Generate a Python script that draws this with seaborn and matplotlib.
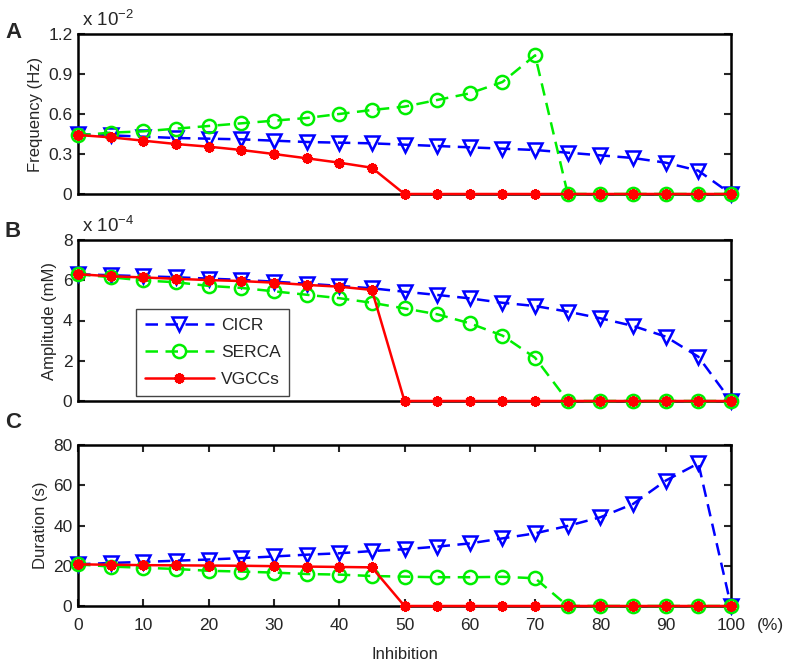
import numpy as np
import pandas as pd
import matplotlib
matplotlib.use("Agg")
import matplotlib.pyplot as plt
import seaborn as sns

inhibition = [0, 5, 10, 15, 20, 25, 30, 35, 40, 45, 50, 55, 60, 65, 70, 75, 80, 85, 90, 95, 100]

# Panel A: frequency (x 1e-2 Hz)
freq_cicr = [0.45, 0.44, 0.43, 0.42, 0.415, 0.41, 0.40, 0.39, 0.385, 0.38, 0.37, 0.36, 0.35, 0.34, 0.33, 0.31, 0.29, 0.27, 0.235, 0.175, 0.0]
freq_serca = [0.44, 0.46, 0.47, 0.49, 0.51, 0.53, 0.55, 0.57, 0.60, 0.63, 0.655, 0.705, 0.755, 0.84, 1.04, 0, 0, 0, 0, 0, 0]
freq_vgcc = [0.4425, 0.425, 0.40, 0.375, 0.355, 0.33, 0.30, 0.268, 0.235, 0.197, 0, 0, 0, 0, 0, 0, 0, 0, 0, 0, 0]

# Panel B: amplitude (x 1e-4 mM)
amp_cicr = [6.3, 6.25, 6.2, 6.15, 6.08, 6.02, 5.93, 5.83, 5.72, 5.6, 5.43, 5.27, 5.10, 4.88, 4.72, 4.44, 4.11, 3.73, 3.2, 2.2, 0.0]
amp_serca = [6.3, 6.15, 5.99, 5.9, 5.72, 5.62, 5.45, 5.28, 5.11, 4.88, 4.6, 4.31, 3.86, 3.25, 2.15, 0, 0, 0, 0, 0, 0]
amp_vgcc = [6.3, 6.2, 6.14, 6.07, 6.01, 5.96, 5.88, 5.77, 5.68, 5.52, 0, 0, 0, 0, 0, 0, 0, 0, 0, 0, 0]

# Panel C: duration (s)
dur_cicr = [20.7, 21.4, 21.9, 22.5, 23.1, 23.8, 24.6, 25.5, 26.2, 27.3, 28.2, 29.5, 31.1, 33.6, 36.1, 39.8, 44.1, 50.7, 62.3, 70.9, 0.0]
dur_serca = [20.7, 19.6, 19.0, 18.4, 17.5, 17.1, 16.6, 15.9, 15.6, 14.9, 14.6, 14.3, 14.3, 14.5, 13.8, 0, 0, 0, 0, 0, 0]
dur_vgcc = [20.7, 20.5, 20.3, 20.2, 20.1, 20.0, 19.8, 19.6, 19.4, 19.2, 0, 0, 0, 0, 0, 0, 0, 0, 0, 0, 0]

series_names = ["CICR", "SERCA", "VGCCs"]
panel_ylabels = ["Frequency (Hz)", "Amplitude (mM)", "Duration (s)"]
panel_letters = ["A", "B", "C"]
panel_yticks = [[0, 0.3, 0.6, 0.9, 1.2], [0, 2, 4, 6, 8], [0, 20, 40, 60, 80]]
panel_yticklabels = [["0", "0.3", "0.6", "0.9", "1.2"], ["0", "2", "4", "6", "8"], ["0", "20", "40", "60", "80"]]
panel_exponents = [r"x 10$^{-2}$", r"x 10$^{-4}$", None]
xticks = [0, 10, 20, 30, 40, 50, 60, 70, 80, 90, 100]

sns.set_style("ticks")
plt.rcParams["font.family"] = ["Liberation Sans", "DejaVu Sans"]
plt.rcParams["mathtext.fontset"] = "custom"
plt.rcParams["mathtext.rm"] = "Liberation Sans"
plt.rcParams["mathtext.it"] = "Liberation Sans"
plt.rcParams["mathtext.default"] = "rm"

fig = plt.figure(figsize=(7.86, 6.63), dpi=100)
W, H = 786.0, 663.0
left_px, right_px = 78, 731
boxes = [(34, 194), (240, 401), (445, 606)]
letter_baselines = [38, 237, 428]
axes = []
for (top, bot) in boxes:
    ax = fig.add_axes([left_px / W, 1 - bot / H, (right_px - left_px) / W, (bot - top) / H])
    axes.append(ax)

data = [
    (freq_cicr, freq_serca, freq_vgcc),
    (amp_cicr, amp_serca, amp_vgcc),
    (dur_cicr, dur_serca, dur_vgcc),
]

styles = [
    dict(color="#0000ff", linestyle=(0, (5, 3)), marker="v", markersize=10, fillstyle="none",
         markeredgecolor="#0000ff", markeredgewidth=1.8, linewidth=1.8),
    dict(color="#00ee00", linestyle=(0, (5, 3)), marker="o", markersize=9.5, fillstyle="none",
         markeredgecolor="#00ee00", markeredgewidth=1.8, linewidth=1.8),
    dict(color="#ff0000", linestyle="-", marker=(8, 2, 0), markersize=7.5,
         markeredgecolor="#ff0000", markeredgewidth=2.2, linewidth=1.8),
]

for i, ax in enumerate(axes):
    for name, vals, st in zip(series_names, data[i], styles):
        df = pd.DataFrame({"x": inhibition, "y": vals})
        sns.lineplot(data=df, x="x", y="y", ax=ax, label=name, clip_on=False, zorder=3, **st)
    ax.set_xlim(0, 100)
    ax.set_ylim(panel_yticks[i][0], panel_yticks[i][-1])
    ax.set_yticks(panel_yticks[i])
    ax.set_yticklabels(panel_yticklabels[i])
    if i < 2:
        ax.set_xticks([])
    else:
        ax.set_xticks(xticks)
        ax.set_xticklabels([str(t) for t in xticks])
    ax.set_xlabel("")
    ax.set_ylabel(panel_ylabels[i], fontsize=12, labelpad=4)
    ax.tick_params(axis="y", direction="in", length=5, width=1.5, labelsize=12.5,
                   right=True, left=True, pad=4)
    ax.tick_params(axis="x", direction="in", length=5, width=1.5, labelsize=12.5,
                   top=(i == 2), bottom=(i == 2), pad=9)
    for sp in ax.spines.values():
        sp.set_linewidth(1.8)
        sp.set_color("black")
    if ax.get_legend() is not None:
        ax.get_legend().remove()
    fig.text(5 / W, 1 - letter_baselines[i] / H, panel_letters[i],
             fontsize=16, fontweight="bold", ha="left", va="baseline")
    if panel_exponents[i]:
        ax.text(4 / 653, 1.0 + 8 / 160, panel_exponents[i], transform=ax.transAxes,
                fontsize=13.5, ha="left", va="baseline")

axes[2].set_xlabel("Inhibition", fontsize=12, labelpad=10)
axes[2].text(1.0 + 26 / 653, -12 / 161, "(%)", transform=axes[2].transAxes,
             fontsize=12.5, ha="left", va="top")

h, l = axes[1].get_legend_handles_labels()
leg = axes[1].legend(h, l, loc="lower left", bbox_to_anchor=(58 / 653, 5 / 161), fontsize=12.5,
                     frameon=True, fancybox=False, edgecolor="#444444", framealpha=1,
                     handlelength=4.0, labelspacing=0.7, borderpad=0.5, handletextpad=0.4,
                     borderaxespad=0)
leg.get_frame().set_linewidth(1.0)

fig.savefig("out.png", dpi=100)
